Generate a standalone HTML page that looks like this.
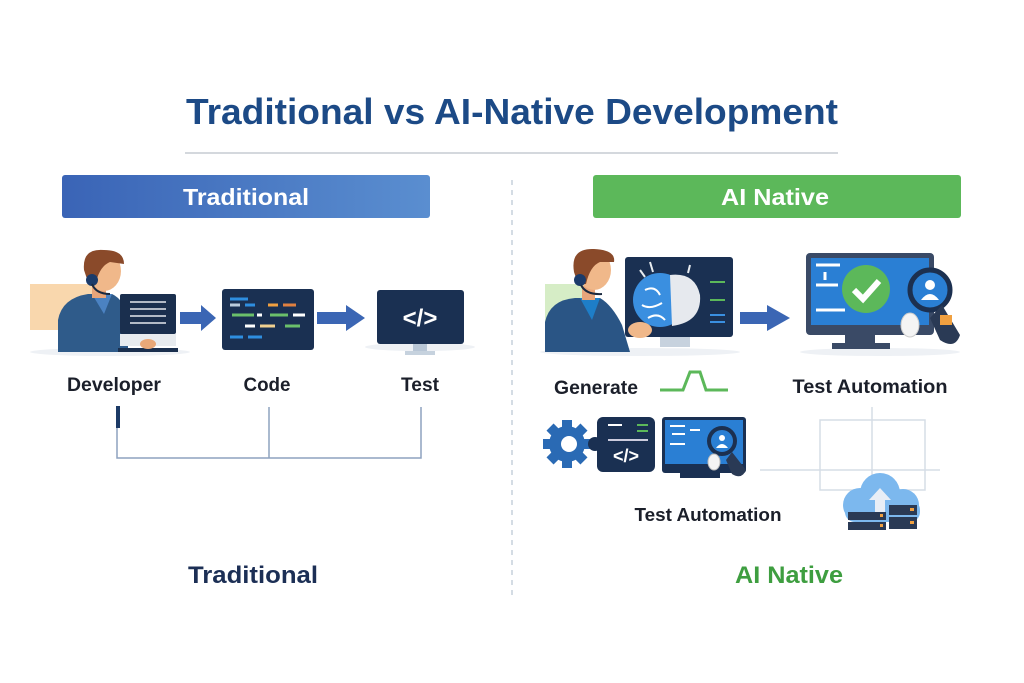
<!DOCTYPE html>
<html><head><meta charset="utf-8"><style>
html,body{margin:0;padding:0;background:#fff;}
svg{display:block;}
text{font-family:"Liberation Sans",sans-serif;font-weight:bold;}
</style></head><body>
<svg width="1024" height="683" viewBox="0 0 1024 683" xmlns="http://www.w3.org/2000/svg">
<defs>
<linearGradient id="gb" x1="0" x2="1"><stop offset="0" stop-color="#3a64b6"/><stop offset="1" stop-color="#5a8ed0"/></linearGradient>
</defs>
<rect width="1024" height="683" fill="#fff"/>
<text x="512" y="124" font-size="36" fill="#1c4a86" text-anchor="middle" textLength="652" lengthAdjust="spacingAndGlyphs">Traditional vs AI-Native Development</text>
<line x1="185" y1="153" x2="838" y2="153" stroke="#d4d8dd" stroke-width="2"/>
<rect x="62" y="175" width="368" height="43" rx="3" fill="url(#gb)"/>
<text x="246" y="205" font-size="23" fill="#fff" text-anchor="middle" textLength="126" lengthAdjust="spacingAndGlyphs">Traditional</text>
<rect x="593" y="175" width="368" height="43" rx="3" fill="#5cb85a"/>
<text x="775" y="205" font-size="23" fill="#fff" text-anchor="middle" textLength="108" lengthAdjust="spacingAndGlyphs">AI Native</text>
<line x1="512" y1="180" x2="512" y2="600" stroke="#c5d0dc" stroke-width="1.5" stroke-dasharray="5,5"/>

<rect x="30" y="284" width="70" height="46" fill="#f9d7ad"/>
<ellipse cx="110" cy="352" rx="80" ry="4" fill="#eef1f5"/>
<path d="M58 352 L58 320 Q62 298 88 294 L112 294 Q125 300 128 320 L128 352 Z" fill="#2f5b8a"/>
<path d="M92 294 L104 314 L112 294 Z" fill="#4b82c2"/>
<rect x="92" y="282" width="14" height="16" fill="#e8a57a"/>
<ellipse cx="104" cy="271" rx="17" ry="20" fill="#f0b88a"/>
<path d="M84 270 Q82 248 104 250 Q124 250 124 264 L110 262 Q100 266 96 282 L88 282 Z" fill="#8a4a2a"/>
<circle cx="92" cy="280" r="6" fill="#1b3b6a"/>
<path d="M92 284 Q96 294 110 294" stroke="#1b2a40" stroke-width="2" fill="none"/>
<rect x="120" y="294" width="56" height="40" rx="2" fill="#1a2f4e"/>
<g stroke="#e4e8ee" stroke-width="1.5"><line x1="130" y1="302" x2="166" y2="302"/><line x1="130" y1="309" x2="166" y2="309"/><line x1="130" y1="316" x2="166" y2="316"/><line x1="130" y1="323" x2="166" y2="323"/></g>
<rect x="120" y="334" width="56" height="12" fill="#e7ebef"/>
<rect x="118" y="348" width="60" height="4" fill="#1a2f4e"/>
<ellipse cx="148" cy="344" rx="8" ry="5" fill="#e9a878"/>
<path d="M180 312 L201 312 L201 305 L216 318 L201 331 L201 324 L180 324 Z" fill="#3b66b4"/>
<rect x="222" y="289" width="92" height="61" rx="3" fill="#1a3052"/>
<g stroke-width="3"><line x1="230" y1="299" x2="248" y2="299" stroke="#2e8ee0"/><line x1="230" y1="305" x2="240" y2="305" stroke="#bcd"/><line x1="245" y1="305" x2="255" y2="305" stroke="#2e8ee0"/><line x1="268" y1="305" x2="278" y2="305" stroke="#f0a040"/><line x1="283" y1="305" x2="296" y2="305" stroke="#e08040"/><line x1="232" y1="315" x2="254" y2="315" stroke="#6bc06b"/><line x1="257" y1="315" x2="262" y2="315" stroke="#fff"/><line x1="270" y1="315" x2="288" y2="315" stroke="#6bc06b"/><line x1="293" y1="315" x2="305" y2="315" stroke="#fff"/><line x1="245" y1="326" x2="255" y2="326" stroke="#fff"/><line x1="260" y1="326" x2="275" y2="326" stroke="#f0d090"/><line x1="285" y1="326" x2="300" y2="326" stroke="#6bc06b"/><line x1="230" y1="337" x2="243" y2="337" stroke="#2e8ee0"/><line x1="248" y1="337" x2="262" y2="337" stroke="#2e8ee0"/></g>
<path d="M317 312 L346 312 L346 305 L365 318 L346 331 L346 324 L317 324 Z" fill="#3b66b4"/>
<ellipse cx="420" cy="347" rx="55" ry="4" fill="#eef1f5"/>
<rect x="377" y="290" width="87" height="54" rx="3" fill="#1a3052"/>
<rect x="413" y="344" width="14" height="8" fill="#b8c6d6"/>
<rect x="405" y="351" width="30" height="4" fill="#c6d2de"/>
<text x="420" y="326" font-size="24" fill="#fff" text-anchor="middle">&lt;/&gt;</text>
<text x="114" y="391" font-size="19" fill="#1b1f2a" text-anchor="middle" textLength="94" lengthAdjust="spacingAndGlyphs">Developer</text>
<text x="267" y="391" font-size="19" fill="#1b1f2a" text-anchor="middle" textLength="47" lengthAdjust="spacingAndGlyphs">Code</text>
<text x="420" y="391" font-size="19" fill="#1b1f2a" text-anchor="middle" textLength="38" lengthAdjust="spacingAndGlyphs">Test</text>
<g stroke="#8ea2bf" stroke-width="1.5" fill="none"><path d="M117 410 L117 458 L421 458 L421 407"/><line x1="269" y1="407" x2="269" y2="458"/></g>
<rect x="116" y="406" width="4" height="22" fill="#1c3a66"/>
<text x="253" y="583" font-size="24" fill="#1c2f55" text-anchor="middle" textLength="130" lengthAdjust="spacingAndGlyphs">Traditional</text>

<rect x="545" y="284" width="40" height="48" fill="#d6edc6"/>
<ellipse cx="640" cy="352" rx="100" ry="4" fill="#eef1f5"/>
<rect x="625" y="257" width="108" height="80" rx="3" fill="#1a3052"/>
<rect x="660" y="337" width="30" height="10" fill="#c7d2de"/>
<circle cx="660" cy="300" r="27" fill="#3a8fe0"/>
<path d="M670 275 Q695 272 700 295 Q702 322 672 326 Z" fill="#e6e9ee"/>
<g stroke="#fff" stroke-width="2" fill="none"><path d="M645 290 Q655 285 660 295"/><path d="M642 305 Q650 310 662 303"/><path d="M648 318 Q658 312 665 320"/></g>
<g stroke="#e8ecf0" stroke-width="2"><line x1="640" y1="270" x2="645" y2="277"/><line x1="650" y1="262" x2="653" y2="272"/><line x1="690" y1="265" x2="688" y2="273"/><line x1="710" y1="282" x2="725" y2="282" stroke="#5cb85a"/><line x1="710" y1="300" x2="725" y2="300" stroke="#5cb85a"/><line x1="710" y1="315" x2="725" y2="315" stroke="#3a8fe0"/><line x1="710" y1="322" x2="725" y2="322" stroke="#3a8fe0"/></g>
<path d="M545 352 L545 322 Q550 300 575 298 L600 298 Q612 305 622 325 L630 352 Z" fill="#2a5585"/>
<path d="M580 298 L592 320 L600 298 Z" fill="#1e7ec8"/>
<rect x="582" y="286" width="13" height="14" fill="#e8a57a"/>
<ellipse cx="594" cy="270" rx="17" ry="20" fill="#f0b88a"/>
<path d="M574 272 Q570 248 594 249 Q616 250 614 262 L600 262 Q590 266 586 284 L578 284 Z" fill="#8a4a2a"/>
<circle cx="580" cy="280" r="6" fill="#1b3b6a"/>
<path d="M581 285 Q586 295 602 294" stroke="#1b2a40" stroke-width="2" fill="none"/>
<ellipse cx="640" cy="330" rx="12" ry="8" fill="#f0b88a"/>
<path d="M740 312 L767 312 L767 305 L790 318 L767 331 L767 324 L740 324 Z" fill="#3b66b4"/>
<ellipse cx="880" cy="352" rx="80" ry="4" fill="#eef1f5"/>
<rect x="806" y="253" width="128" height="82" rx="4" fill="#3a4a66"/>
<rect x="811" y="258" width="118" height="67" fill="#2a7fd4"/>
<rect x="845" y="335" width="30" height="10" fill="#3a4a66"/>
<rect x="832" y="343" width="58" height="6" fill="#3a4a66"/>
<g stroke="#fff" stroke-width="3"><line x1="816" y1="265" x2="840" y2="265"/><line x1="825" y1="272" x2="825" y2="280"/><line x1="816" y1="285" x2="838" y2="285"/><line x1="816" y1="310" x2="845" y2="310"/></g>
<circle cx="866" cy="289" r="24" fill="#5cb85a"/>
<path d="M854 290 L863 299 L879 281" stroke="#fff" stroke-width="6" fill="none"/>
<circle cx="930" cy="290" r="20" fill="#2a7fd4" stroke="#1c3050" stroke-width="5"/>
<circle cx="930" cy="285" r="5" fill="#fff"/><path d="M921 300 Q930 288 939 300" fill="#fff"/>
<path d="M942 305 L960 335 Q955 350 940 340 L930 318" fill="#2a3a55"/>
<rect x="940" y="315" width="12" height="10" fill="#f0a040"/>
<ellipse cx="910" cy="325" rx="9" ry="12" fill="#f4f4f4" stroke="#ccc"/>
<text x="870" y="393" font-size="19" fill="#1b1f2a" text-anchor="middle" textLength="155" lengthAdjust="spacingAndGlyphs">Test Automation</text>
<text x="596" y="394" font-size="19" fill="#1b1f2a" text-anchor="middle" textLength="84" lengthAdjust="spacingAndGlyphs">Generate</text>
<path d="M660 390 L683 390 L690 372 L700 372 L706 390 L728 390" stroke="#5cb85a" stroke-width="3" fill="none"/>
<g fill="#2a6ab4"><circle cx="567" cy="444" r="18"/><rect x="562" y="420" width="10" height="48"/><rect x="543" y="439" width="48" height="10"/><rect x="562" y="420" width="10" height="48" transform="rotate(45 567 444)"/><rect x="562" y="420" width="10" height="48" transform="rotate(-45 567 444)"/></g>
<circle cx="569" cy="444" r="8" fill="#fff"/>
<rect x="597" y="417" width="58" height="55" rx="6" fill="#1a3052"/>
<circle cx="595" cy="444" r="7" fill="#1a3052"/>
<text x="626" y="462" font-size="18" fill="#fff" text-anchor="middle">&lt;/&gt;</text>
<g stroke-width="2"><line x1="608" y1="425" x2="622" y2="425" stroke="#fff"/><line x1="637" y1="425" x2="648" y2="425" stroke="#5cb85a"/><line x1="637" y1="431" x2="648" y2="431" stroke="#5cb85a"/><line x1="608" y1="440" x2="648" y2="440" stroke="#ccd"/></g>
<rect x="662" y="417" width="84" height="56" rx="3" fill="#1a3052"/>
<rect x="665" y="420" width="78" height="44" fill="#2a7fd4"/>
<rect x="680" y="473" width="40" height="5" fill="#1a3052"/>
<g stroke="#fff" stroke-width="2"><line x1="670" y1="426" x2="685" y2="426"/><line x1="672" y1="434" x2="685" y2="434"/><line x1="690" y1="430" x2="700" y2="430"/><line x1="670" y1="444" x2="685" y2="444"/></g>
<circle cx="722" cy="441" r="13" fill="#2a7fd4" stroke="#1c3050" stroke-width="4"/>
<circle cx="722" cy="438" r="3" fill="#fff"/><path d="M716 448 Q722 440 728 448" fill="#fff"/>
<path d="M732 452 L746 470 Q742 480 732 474 L726 460" fill="#2a3a55"/>
<ellipse cx="714" cy="462" rx="6" ry="8" fill="#f4f4f4" stroke="#bbb"/>
<g stroke="#d6dde6" stroke-width="1.5" fill="none"><rect x="820" y="420" width="105" height="70"/><line x1="872" y1="407" x2="872" y2="490"/><line x1="760" y1="470" x2="940" y2="470"/></g>
<text x="708" y="521" font-size="18" fill="#1b1f2a" text-anchor="middle" textLength="147" lengthAdjust="spacingAndGlyphs">Test Automation</text>
<g fill="#7cb8ee"><circle cx="860" cy="505" r="17"/><circle cx="880" cy="493" r="20"/><circle cx="903" cy="505" r="16"/><rect x="845" y="500" width="75" height="22" rx="10"/></g>
<path d="M875 515 L875 500 L869 500 L880 488 L891 500 L885 500 L885 515 Z" fill="#e8eef6"/>
<g fill="#2a3a55"><rect x="848" y="512" width="38" height="8"/><rect x="848" y="522" width="38" height="8"/><rect x="889" y="505" width="28" height="10"/><rect x="889" y="517" width="28" height="12"/></g>
<g fill="#f0a040"><rect x="880" y="514" width="3" height="3"/><rect x="880" y="524" width="3" height="3"/><rect x="910" y="508" width="4" height="3"/><rect x="910" y="521" width="4" height="3"/></g>
<text x="789" y="583" font-size="24" fill="#3e9e40" text-anchor="middle" textLength="108" lengthAdjust="spacingAndGlyphs">AI Native</text>
</svg>
</body></html>
